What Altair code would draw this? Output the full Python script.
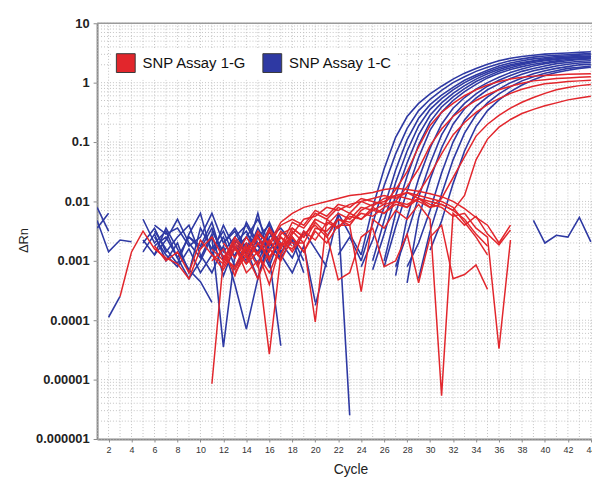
import altair as alt
import pandas as pd

N = None
CYCLES = list(range(1, 45))
X_TICKS = list(range(2, 45, 2))
Y_TICKS = [1e-6, 1e-5, 1e-4, 1e-3, 1e-2, 1e-1, 1, 10]
GROUPS = ["SNP Assay 1-G", "SNP Assay 1-C"]
COLORS = ["#e2262c", "#2e39a3"]

# log10(delta Rn) per cycle 1..44 (None = not drawn)
b01 = [-2.32, -2.85, -2.65, -2.68, N, -2.4, -2.55, -2.45, -2.75, -2.6, -2.2, -2.7, -2.5, -2.9, -2.45, -2.8, -2.6] + [N]*6 + \
      [-2.9, -2.1, -1.45, -0.92, -0.57, -0.35, -0.19, -0.06, 0.06, 0.16, 0.24, 0.31, 0.37, 0.41, 0.44, 0.46, 0.48, 0.49, 0.50, 0.51, 0.52]
b02 = [-2.1, -2.5, N, N, N, -2.6, -2.9, -3.1, -2.8, -3.2, -2.9, -2.4, -2.8, -2.6, -2.3, -2.7, -2.95] + [-2.65, -3.2] + [N]*4 + \
      [-3.0, -2.37, -1.73, -1.2, -0.77, -0.47, -0.28, -0.13, 0.0, 0.10, 0.19, 0.26, 0.32, 0.37, 0.40, 0.43, 0.45, 0.46, 0.47, 0.48, 0.49]
b03 = [-2.45, -2.2, N, N, -2.65, -2.9, -2.45, -2.8, -3.15, -3.35, -3.7, N, N, -2.55, -2.75, -2.35, -2.8] + [N]*6 + \
      [-3.1, -2.65, -2.1, -1.47, -0.96, -0.6, -0.37, -0.21, -0.08, 0.04, 0.13, 0.21, 0.28, 0.33, 0.37, 0.40, 0.42, 0.44, 0.45, 0.46, 0.47]
b04 = [N, -3.95, -3.6, N, N, -2.75, -2.6, -2.95, -3.3, -3.0, -2.6, -4.45, -2.9, -2.7, -3.05, -2.5, -2.9] + [-3.2, -2.75, -3.7] + [N]*4 + \
      [-3.0, -2.32, -1.68, -1.15, -0.73, -0.45, -0.27, -0.12, 0.0, 0.1, 0.18, 0.25, 0.30, 0.34, 0.37, 0.40, 0.42, 0.43, 0.44, 0.45]
b05 = [N, N, N, N, -2.7, -2.45, -2.85, -2.6, -2.4, -2.9, -3.2, -2.75, -3.4, -4.15, -3.3, -2.6, -2.45] + [-2.7, N, N, -2.6, -2.25, -5.6, N] + \
      [-3.15, -2.55, -1.9, -1.35, -0.88, -0.55, -0.34, -0.18, -0.05, 0.06, 0.15, 0.22, 0.28, 0.32, 0.36, 0.38, 0.40, 0.42, 0.43, 0.44]
b06 = [N, N, N, N, -2.3, -2.7, -2.5, -2.95, -2.6, -2.75, -2.35, -3.0, -2.65, -2.85, -2.2, -2.95, -4.43] + [N]*8 + \
      [-3.0, -2.2, -1.57, -1.05, -0.66, -0.41, -0.24, -0.1, 0.02, 0.11, 0.19, 0.25, 0.30, 0.34, 0.37, 0.39, 0.41, 0.42, 0.43]
b07 = [N, N, N, N, -2.85, -2.55, -3.0, -2.7, -3.2, -2.45, -2.8, -2.5, -2.95, -2.35, -2.7, -3.1, -2.55] + [N, N, -3.75, -3.0, -2.2, -2.55, -2.9, N] + \
      [-3.1, -2.43, -1.83, -1.26, -0.8, -0.5, -0.3, -0.15, -0.03, 0.08, 0.16, 0.22, 0.27, 0.31, 0.34, 0.37, 0.39, 0.40, 0.41]
b08 = [N, N, N, N, N, -2.9, -2.65, -2.3, -2.7, -2.95, -2.55, -3.25, -2.75, -3.0, -2.6, -2.4, -2.85] + [-2.6, -3.0] + [N]*7 + \
      [-3.25, -2.27, -1.62, -1.1, -0.7, -0.43, -0.25, -0.11, 0.0, 0.09, 0.17, 0.23, 0.28, 0.32, 0.35, 0.37, 0.39, 0.40]
b09 = [N, N, N, N, N, -2.5, -2.8, -3.05, -2.55, -2.2, -2.9, -2.6, -3.1, -2.8, -3.3, -2.7, N] + [N]*9 + \
      [-3.1, -2.55, -1.93, -1.36, -0.88, -0.56, -0.35, -0.19, -0.06, 0.04, 0.12, 0.19, 0.24, 0.28, 0.32, 0.34, 0.36, 0.37]
b10 = [N]*8 + [-2.6, -2.8, -2.45, -2.95, -2.7, -2.5, -2.9, -2.65, -3.0] + [N]*10 + \
      [-3.37, -2.27, -1.63, -1.1, -0.7, -0.44, -0.26, -0.12, -0.02, 0.07, 0.14, 0.20, 0.24, 0.28, 0.31, 0.33, 0.34]
b11 = [N]*10 + [-2.5, -2.85, -2.6, -2.4, -2.75, -2.95, -2.7] + [-2.95, -2.5, -2.8, -3.1] + [N]*6 + \
      [-3.1, -2.7, -2.15, -1.52, -1.0, -0.63, -0.4, -0.24, -0.11, 0.0, 0.08, 0.15, 0.20, 0.24, 0.27, 0.30, 0.31]
b12 = [N]*11 + [-2.7, -2.45, -2.8, -2.55, -3.05, N] + [N]*4 + [-2.9, -2.6, -3.0] + [N]*4 + \
      [-3.3, -2.5, -1.88, -1.3, -0.85, -0.54, -0.34, -0.19, -0.07, 0.03, 0.10, 0.16, 0.20, 0.24, 0.26, 0.28]
b13 = [N]*12 + [-2.9, -2.6, -2.85, -2.45, -2.7] + [N]*12 + \
      [-2.82, -2.33, -1.7, -1.15, -0.74, -0.47, -0.29, -0.15, -0.04, 0.05, 0.12, 0.17, 0.21, 0.24, 0.26]
b14 = [N]*38 + [-2.32, -2.7, -2.57, -2.6, -2.27, -2.68]

r00 = [N, N, -3.6, -2.85, -2.5, -2.8, -2.95, -3.05, -3.3, -2.8, -2.6, -2.95, -3.1, -2.7, -2.9, -2.5, -2.8, -2.45, -2.6, -2.3] + [N]*24
r01 = [N]*5 + [-2.75, -3.0, -2.85, -3.2, -2.65, -2.9, -3.15, -2.8, -3.05, -2.7, -2.95, -2.6, -2.75] + [N]*26
h01 = [N]*10 + [-5.07, -2.98, -2.6, -2.85, -2.55, -2.7, -2.35, -2.2, -2.1, -2.05, -2.0, -1.95, -1.9, -1.88, -1.85, -1.8, -1.78,
                -1.8, -1.83, -1.87, -1.92, -2.0, -2.12, -2.27, -2.4, -2.7, -2.4] + [N]*7
h02 = [N]*10 + [N, -3.1, -2.75, -3.2, -3.0, -4.57, -2.9, -2.55, -2.3, -2.25, -2.1, -2.15, -2.05, -2.0, -2.08, -1.95, -1.9,
                -1.95, -2.0, -2.1, -2.05, -2.15, -2.3, -2.55, -2.75, N, N] + [N]*7
h03 = [N]*10 + [-2.9, -3.05, -2.7, -2.95, -2.6, -2.85, -2.5, -2.7, -2.7, -4.03, -2.3, -2.45, -2.2, -2.3, -2.1, -2.2, -2.0,
                -2.1, -1.95, -2.05, -2.1, -2.25, -2.2, -2.45, -2.6, -4.48, -2.65] + [N]*7
h04 = [N]*10 + [N, N, -3.2, -2.9, -3.3, -2.8, -3.0, -2.6, -2.85, -2.5, -2.7, -2.4, -2.4, -3.52, -2.3, -2.45, -2.15,
                -2.3, -2.05, -2.3, -5.27, -2.2, -2.4, -2.25, -2.55, -2.73, -2.48] + [N]*7
h05 = [N]*10 + [-3.0, -2.8, -3.25, -2.75, -3.1, -2.65, -2.9, -2.5, -2.7, -2.35, -2.55, -3.32, -3.2, -2.6, -2.45, -3.1, -3.0,
                -2.55, -3.37, -2.6, -2.4, -3.3, -3.23, -3.07, -3.48, N, N] + [N]*7
h06 = [N]*10 + [N, -2.7, -2.95, -2.6, -2.9, -2.45, -2.75, -2.35, -2.45, -2.2, -2.3, -2.1, -2.2, -2.0, -1.95, -1.9, -1.95,
                -1.85, -1.9, -1.95, -2.0, -2.1, -2.35, -2.6, -2.9, N, N] + [N]*7
r1 = [N]*10 + [-2.8, -3.0, -2.65, -2.9, -2.5, -2.75, -2.4, -2.3, -2.4, -2.15, -2.25, -2.05, -2.1, -1.95, -2.0] + \
     [-2.05, -1.8, -1.5, -1.08, -0.72, -0.5, -0.35, -0.22, -0.12, -0.04, 0.02, 0.06, 0.09, 0.11, 0.12, 0.13, 0.14, 0.145, 0.15]
r2 = [N]*11 + [-2.9, -3.15, -2.8, -2.6, -3.0, -2.55, -2.45, -2.6, -2.3, -2.4, -2.2, -2.3, -2.1, -2.15, -2.05] + \
     [-2.0, -1.75, -1.45, -1.06, -0.78, -0.57, -0.42, -0.3, -0.2, -0.12, -0.06, -0.01, 0.03, 0.05, 0.07, 0.08, 0.09, 0.10]
r3 = [N]*12 + [-2.75, -3.05, -2.85, -3.4, -2.7, -2.8, -2.5, -2.65, -2.35, -2.45, -2.25, -2.3, -2.15, -2.2, -2.05] + \
     [-2.1, -1.85, -1.55, -1.2, -0.88, -0.67, -0.5, -0.37, -0.27, -0.18, -0.11, -0.06, -0.02, 0.0, 0.02, 0.03, 0.04]
r4 = [N]*13 + [-3.0, -2.7, -2.95, -2.6, -2.85, -2.55, -2.4, -2.6, -2.3, -2.35, -2.2, -2.25, -2.1, -2.0, -2.05, -1.95] + \
     [-2.1, -1.95, -1.6, -1.25, -0.9, -0.7, -0.55, -0.43, -0.33, -0.25, -0.18, -0.12, -0.08, -0.05, -0.03]
r5 = [N]*14 + [-2.9, -3.2, -2.75, -2.6, -2.85, -2.45, -2.5, -2.3, -2.4, -2.15, -2.05, -2.0, -1.9, -1.85, -1.95, -2.0, -2.05, -2.15] + \
     [-1.9, -1.3, -0.95, -0.75, -0.62, -0.52, -0.45, -0.39, -0.34, -0.29, -0.26, -0.23]

BLUE = {"b01": b01, "b02": b02, "b03": b03, "b04": b04, "b05": b05, "b06": b06, "b07": b07,
        "b08": b08, "b09": b09, "b10": b10, "b11": b11, "b12": b12, "b13": b13, "b14": b14}
RED = {"r00": r00, "r01": r01, "h01": h01, "h02": h02, "h03": h03, "h04": h04, "h05": h05,
       "h06": h06, "r1": r1, "r2": r2, "r3": r3, "r4": r4, "r5": r5}


def to_rows(series, group):
    rows = []
    for name, vals in series.items():
        seg = 0
        for c, v in zip(CYCLES, vals):
            if v is None:
                seg += 1
                continue
            rows.append({"seg": f"{name}_{seg}", "group": group, "cycle": c, "drn": 10 ** v})
    return pd.DataFrame(rows)


df_blue = to_rows(BLUE, GROUPS[1])
df_red = to_rows(RED, GROUPS[0])

GRID_Y = [m * 10.0 ** e for e in range(-6, 1) for m in range(1, 10)] + [10.0]

FONT = "Liberation Sans"
xscale = alt.Scale(domain=[1, 44.1], nice=False, zero=False)
yscale = alt.Scale(type="log", domain=[1e-6, 10], nice=False)
xaxis = alt.Axis(values=X_TICKS, title="Cycle", grid=False, domainColor="#8a8a8a", domainWidth=2,
                 tickColor="#8a8a8a", tickSize=3, labelFontSize=9, labelColor="#333333", labelFont=FONT,
                 labelPadding=4, titleFont=FONT, titleFontSize=14, titleFontWeight="normal",
                 titleColor="#222222", titlePadding=8, titleX=256, labelFlush=False, labelOverlap=False)
yaxis = alt.Axis(values=Y_TICKS, format="~f", title="ΔRn", grid=False, domainColor="#8a8a8a", domainWidth=2,
                 tickColor="#8a8a8a", tickSize=4, labelFontSize=13, labelFontWeight="bold",
                 labelColor="#222222", labelFont=FONT, labelPadding=4, titleFont=FONT, titleFontSize=13,
                 titleFontWeight="normal", titleColor="#222222", titleX=-67, titleY=219,
                 labelOverlap=False, labelFlush=False)

X = alt.X("cycle:Q", scale=xscale, axis=xaxis)
Y = alt.Y("drn:Q", scale=yscale, axis=yaxis)
cscale = alt.Scale(domain=GROUPS, range=COLORS)

grid_v = alt.Chart(pd.DataFrame({"cycle": CYCLES})).mark_rule(
    color="#c2c2c2", strokeDash=[1, 2], strokeWidth=1).encode(x=X)
grid_h = alt.Chart(pd.DataFrame({"drn": GRID_Y})).mark_rule(
    color="#c2c2c2", strokeDash=[1, 2], strokeWidth=1).encode(y=Y)
top_line = alt.Chart(pd.DataFrame({"drn": [10.0]})).mark_rule(
    color="#9a9a9a", strokeWidth=1.5).encode(y=Y)

lines_blue = alt.Chart(df_blue).mark_line(strokeWidth=1.6, clip=True).encode(
    x=X, y=Y, color=alt.Color("group:N", scale=cscale, legend=None), detail="seg:N")
lines_red = alt.Chart(df_red).mark_line(strokeWidth=1.5, clip=True).encode(
    x=X, y=Y, color=alt.Color("group:N", scale=cscale, legend=None), detail="seg:N")

legend_src = alt.Chart(pd.DataFrame({"group": GROUPS, "cycle": [2, 2], "drn": [1.0, 1.0]})).mark_square(
    opacity=0, filled=True).encode(
    x=X, y=Y,
    color=alt.Color("group:N", scale=cscale, legend=alt.Legend(
        title=None, orient="none", legendX=14, legendY=25, direction="horizontal",
        symbolType="square", symbolSize=361, symbolOpacity=1, symbolStrokeColor="#3a3a3a",
        symbolStrokeWidth=1, labelFont=FONT, labelFontSize=15, labelColor="#111111",
        labelOffset=7, columnPadding=13, fillColor="white", padding=5)))

chart = alt.layer(grid_v, grid_h, top_line, lines_blue, lines_red, legend_src).resolve_legend(
    color="independent"
).properties(
    width=500, height=420,
    autosize=alt.AutoSizeParams(type="none"),
    padding={"left": 90, "top": 13, "right": 0, "bottom": 38},
    background="white",
).configure_view(stroke=None)

chart.save("out.html", embed_options={"renderer": "svg", "actions": False})
